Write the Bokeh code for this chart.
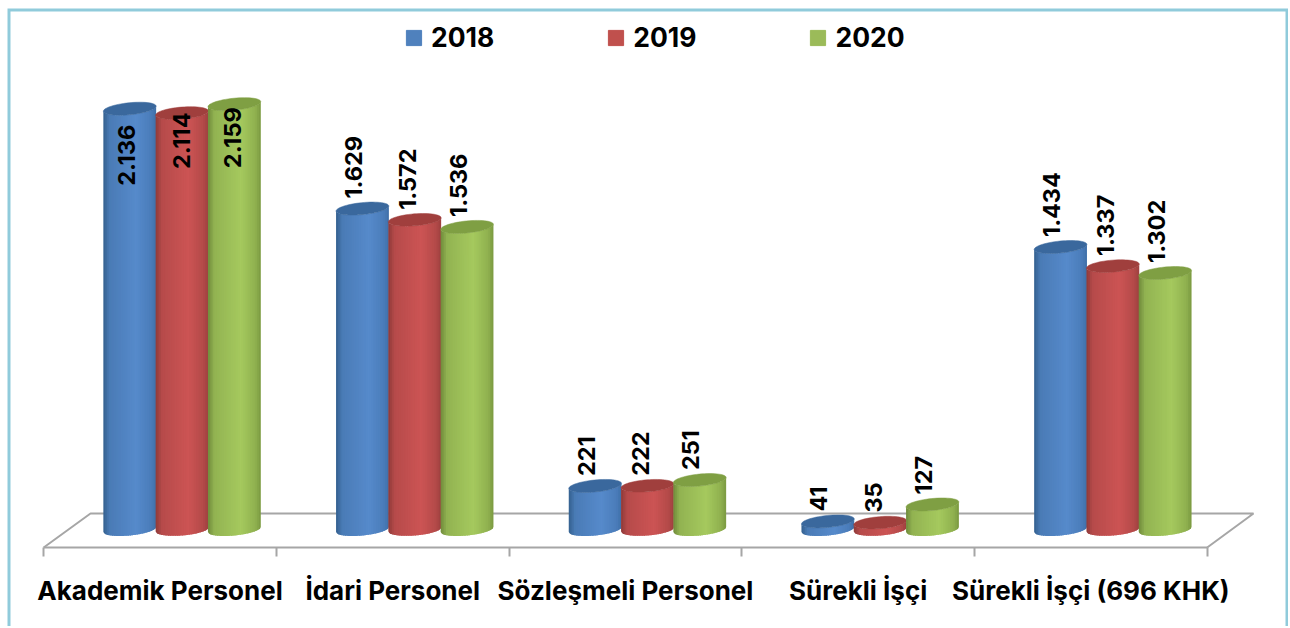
import numpy as np
from bokeh.plotting import figure
from bokeh.embed import file_html
from bokeh.resources import INLINE
from bokeh.core.properties import value
from bokeh.models import (ColumnDataSource, FixedTicker, Legend, LegendItem,
                          LinearAxis, Range1d)

categories = ["Akademik Personel", "İdari Personel", "Sözleşmeli Personel", "Sürekli İşçi", "Sürekli İşçi (696 KHK)"]
years = ["2018", "2019", "2020"]
values_2018 = [2136, 1629, 221, 41, 1434]
values_2019 = [2114, 1572, 222, 35, 1337]
values_2020 = [2159, 1536, 251, 127, 1302]
labels_2018 = ["2.136", "1.629", "221", "41", "1.434"]
labels_2019 = ["2.114", "1.572", "222", "35", "1.337"]
labels_2020 = ["2.159", "1.536", "251", "127", "1.302"]
series_colors = ["#4f81bd", "#c0504d", "#9bbb59"]
series_values = [values_2018, values_2019, values_2020]
series_labels = [labels_2018, labels_2019, labels_2020]

# shading across the cylinder: left edge, brightest, right edge, top cap
shades = [("#34608f", "#568acb", "#3f6fa8", "#3a689d"),
          ("#8e3a39", "#cc5454", "#9c403e", "#a03f3d"),
          ("#6f8a3b", "#a5c95e", "#7a9940", "#7f9f43")]
tilts = [5, 4, 5]

# geometry (px): 1 category = 232.7px, 1 unit = 0.197px
PXX, PXY = 232.7, 0.197
X0, BASE, AXIS_Y = 43.2, 529, 547
W, H = 1288, 626
to_x = lambda px: (px - X0) / PXX
to_y = lambda py: (BASE - py) / PXY

p = figure(width=W, height=H, output_backend="svg", toolbar_location=None,
           x_range=Range1d(to_x(0), to_x(W)),
           y_range=Range1d(to_y(H), to_y(0)),
           min_border_left=0, min_border_right=0, min_border_top=0, min_border_bottom=0,
           x_axis_type=None, y_axis_type=None)
p.grid.visible = False
p.outline_line_color = None
p.background_fill_color = "white"
p.border_fill_color = "white"

# teal border, open at the bottom
p.line([to_x(8.5), to_x(8.5), to_x(1286.5), to_x(1286.5)],
       [to_y(H + 5), to_y(9.5), to_y(9.5), to_y(H + 5)],
       line_color="#90cbdb", line_width=3, line_join="miter")

# floor
p.line([0, to_x(90), to_x(1253), 5], [to_y(AXIS_Y), to_y(513), to_y(513), to_y(AXIS_Y)],
       line_color="#a6a6a6", line_width=2)

def hex2rgb(h):
    return np.array([int(h[i:i + 2], 16) for i in (1, 3, 5)], float)

def shade(t, c):
    ts = [0, 0.12, 0.62, 0.9, 1]
    l, m, r = hex2rgb(c[0]), hex2rgb(c[1]), hex2rgb(c[2])
    stops = [l, 0.35 * l + 0.65 * m, m, 0.5 * m + 0.5 * r, r]
    rgb = [np.interp(t, ts, [s[k] for s in stops]) for k in range(3)]
    return "#%02x%02x%02x" % tuple(int(round(v)) for v in rgb)

A, B = 26.4, 6.0
N = 30
lab_x, lab_y, lab_t, lab_dx, lab_dy = [], [], [], [], []
inside_dy = [77, 56, 64]
inside_dx = [-3, -1, -2]
outside_dx = [-9, -7, -9]

for j, (vals, texts, c, tilt) in enumerate(zip(series_values, series_labels, shades, tilts)):
    sx, sy, sc, cx_, cy_, cc_ = [], [], [], [], [], []
    lower = lambda d: -B * np.sqrt(np.clip(1 - (d / A) ** 2, 0, 1))
    skew = lambda d: tilt / 2 * d / A
    for i, (v, t) in enumerate(zip(vals, texts)):
        cx = i + 0.5 + 22 / PXX + (j - 1) * 52.3 / PXX
        edges = np.linspace(-A, A, N + 1)
        for k in range(N):
            # each strip runs a little under its right-hand neighbour, so no seam shows
            d = np.linspace(edges[k], min(edges[k + 1] + 1.2, A), 4)
            xs = cx + d / PXX
            low = (skew(d) + lower(d)) / PXY
            top = low + v
            sx.append(list(xs) + list(xs[::-1]))
            sy.append(list(low) + list(top[::-1]))
            sc.append(shade((k + 0.5) / N, c))
        th = np.linspace(0, 2 * np.pi, 60)
        dd = A * np.cos(th)
        cx_.append(list(cx + dd / PXX))
        cy_.append(list(v + (skew(dd) + B * np.sin(th)) / PXY))
        cc_.append(c[3])
        lab_x.append(cx)
        lab_y.append(v)
        lab_t.append(t)
        if v > 2000:
            lab_dx.append(inside_dx[j])
            lab_dy.append(inside_dy[j])
        else:
            lab_dx.append(outside_dx[j])
            lab_dy.append(-10)
    p.patches(sx, sy, fill_color=sc, line_color=None)
    p.patches(cx_, cy_, fill_color=cc_, line_color=cc_, line_width=0.5)

lab = ColumnDataSource(dict(x=lab_x, y=lab_y, t=lab_t, dx=lab_dx, dy=lab_dy))
p.text("x", "y", text="t", source=lab, angle=np.pi / 2, text_align="left", text_baseline="middle",
       x_offset="dx", y_offset="dy", text_font=value("Inter"), text_font_style="bold",
       text_font_size="23.5px", text_color="#000000")

# axis
axis = LinearAxis(bounds=(0, 5), fixed_location=to_y(AXIS_Y),
                  ticker=FixedTicker(ticks=[0.5, 1.5, 2.5, 3.5, 4.5], minor_ticks=[0, 1, 2, 3, 4, 5]),
                  major_label_overrides={i + 0.5: c for i, c in enumerate(categories)})
axis.axis_line_color = "#a6a6a6"
axis.axis_line_width = 2
axis.major_tick_line_color = None
axis.minor_tick_line_color = "#a6a6a6"
axis.minor_tick_line_width = 2
axis.minor_tick_out = 9
axis.minor_tick_in = 0
axis.major_tick_out = 0
axis.major_tick_in = 0
axis.major_label_standoff = 18
axis.major_label_text_font = "Inter"
axis.major_label_text_font_style = "bold"
axis.major_label_text_font_size = "26px"
axis.major_label_text_color = "#000000"
p.add_layout(axis, "below")

# legend
items = []
for y, c in zip(years, series_colors):
    r = p.vbar(x=[float("nan")], top=[float("nan")], width=0.1, fill_color=c, line_color=c)
    items.append(LegendItem(label=y, renderers=[r]))
leg = Legend(items=items, orientation="horizontal", location=(404, H - 53),
             glyph_width=19, glyph_height=19, label_standoff=8, spacing=112,
             padding=0, margin=0, border_line_color=None, background_fill_alpha=0,
             label_text_font="Inter", label_text_font_style="bold", label_text_font_size="26.5px",
             label_text_color="#000000", label_height=28)
p.add_layout(leg, "center")

open("out.html", "w").write(file_html(p, INLINE))
